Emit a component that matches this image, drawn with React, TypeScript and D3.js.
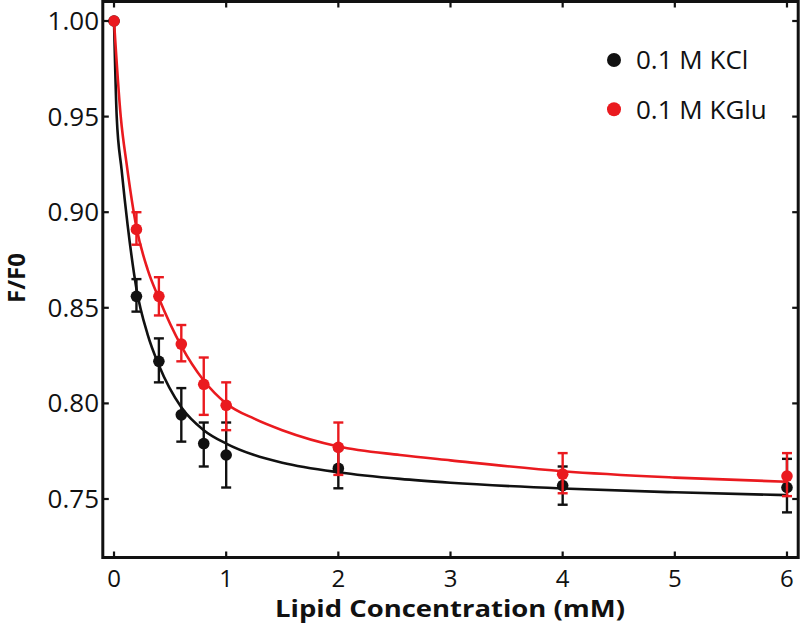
import React, { useEffect } from "react";
import * as d3 from "d3";

// ---- data ----
const concentrations = [0, 0.2, 0.4, 0.6, 0.8, 1, 2, 4, 6];

const kclValues = [1.0, 0.856, 0.822, 0.794, 0.779, 0.773, 0.766, 0.757, 0.756];
const kclHigh = [1.0, 0.865, 0.834, 0.808, 0.79, 0.79, 0.776, 0.767, 0.771];
const kclLow = [1.0, 0.848, 0.811, 0.78, 0.767, 0.756, 0.7556, 0.747, 0.743];

const kgluValues = [1.0, 0.891, 0.856, 0.831, 0.81, 0.799, 0.777, 0.763, 0.762];
const kgluHigh = [1.0, 0.9, 0.866, 0.841, 0.824, 0.811, 0.79, 0.774, 0.774];
const kgluLow = [1.0, 0.883, 0.846, 0.822, 0.794, 0.786, 0.7626, 0.753, 0.7515];

// fitted curves: [x, y]
const kclFit: [number, number][] = [
  [0, 1.0], [0.024, 0.95], [0.068, 0.922], [0.122, 0.893], [0.2, 0.86],
  [0.3, 0.836], [0.4, 0.82], [0.6, 0.798], [0.8, 0.786], [1.0, 0.779],
  [1.25, 0.773], [1.5, 0.769], [2.0, 0.764], [2.55, 0.7605], [3, 0.7585],
  [4, 0.7555], [5, 0.7535], [6, 0.752],
];
const kgluFit: [number, number][] = [
  [0, 1.0], [0.06, 0.95], [0.113, 0.925], [0.2, 0.892], [0.3, 0.87],
  [0.4, 0.855], [0.6, 0.83], [0.8, 0.812], [1.0, 0.8], [1.25, 0.792],
  [1.5, 0.786], [2.0, 0.7775], [2.55, 0.773], [3, 0.7702], [4, 0.7645],
  [5, 0.7612], [6, 0.759],
];

const xTicks = [0, 1, 2, 3, 4, 5, 6];
const yTicks = [0.75, 0.8, 0.85, 0.9, 0.95, 1.0];
const legendLabels = ["0.1 M KCl", "0.1 M KGlu"];
const xTitle = "Lipid Concentration (mM)";
const yTitle = "F/F0";

const BLACK = "#111111";
const RED = "#ea1a1f";

export default function App() {
  useEffect(() => {
    document.body.style.margin = "0";
  }, []);

  const W = 800;
  const H = 624;
  const left = 102.8;
  const right = 798.2;
  const top = 1.5;
  const bottom = 557.5;

  const x = d3.scaleLinear().domain([-0.1, 6.1]).range([left, right]);
  const y = d3.scaleLinear().domain([0.7194, 1.0102]).range([bottom, top]);

  const line = d3
    .line<[number, number]>()
    .x((d) => x(d[0]))
    .y((d) => y(d[1]))
    .curve(d3.curveMonotoneX);

  const font = "'Open Sans', 'DejaVu Sans', sans-serif";
  const tickLen = 6;

  const series = [
    { color: BLACK, vals: kclValues, hi: kclHigh, lo: kclLow, fit: kclFit },
    { color: RED, vals: kgluValues, hi: kgluHigh, lo: kgluLow, fit: kgluFit },
  ];

  return (
    <svg
      width={W}
      height={H}
      style={{ position: "absolute", left: 0, top: 0, background: "#fff" }}
    >
      <rect x={0} y={0} width={W} height={H} fill="#fff" />
      {series.map((s, si) => (
        <g key={si}>
          <path d={line(s.fit) || ""} fill="none" stroke={s.color} strokeWidth={2.6} />
          {concentrations.map((c, i) => {
            const cx = x(c);
            return (
              <g key={i} stroke={s.color} strokeWidth={2.4}>
                <line x1={cx} x2={cx} y1={y(s.hi[i])} y2={y(s.lo[i])} />
                <line x1={cx - 5} x2={cx + 5} y1={y(s.hi[i])} y2={y(s.hi[i])} />
                <line x1={cx - 5} x2={cx + 5} y1={y(s.lo[i])} y2={y(s.lo[i])} />
              </g>
            );
          })}
          {concentrations.map((c, i) => (
            <circle key={i} cx={x(c)} cy={y(s.vals[i])} r={5.8} fill={s.color} />
          ))}
        </g>
      ))}

      {/* frame */}
      <rect
        x={left}
        y={top}
        width={right - left}
        height={bottom - top}
        fill="none"
        stroke={BLACK}
        strokeWidth={3}
      />
      {/* ticks */}
      {xTicks.map((t) => (
        <g key={"xt" + t} stroke={BLACK} strokeWidth={2.2}>
          <line x1={x(t)} x2={x(t)} y1={bottom} y2={bottom - tickLen} />
          <line x1={x(t)} x2={x(t)} y1={top} y2={top + tickLen} />
        </g>
      ))}
      {yTicks.map((t) => (
        <g key={"yt" + t} stroke={BLACK} strokeWidth={2.2}>
          <line x1={left} x2={left + tickLen} y1={y(t)} y2={y(t)} />
          <line x1={right} x2={right - tickLen} y1={y(t)} y2={y(t)} />
        </g>
      ))}
      {/* tick labels */}
      {xTicks.map((t) => (
        <text
          key={"xl" + t}
          x={x(t)}
          y={587}
          textAnchor="middle"
          fontFamily={font}
          fontSize={24}
          fill={BLACK}
        >
          {d3.format("d")(t)}
        </text>
      ))}
      {yTicks.map((t) => (
        <text
          key={"yl" + t}
          x={99}
          y={y(t)}
          dy="0.35em"
          textAnchor="end"
          fontFamily={font}
          fontSize={26}
          fill={BLACK}
        >
          {d3.format(".2f")(t)}
        </text>
      ))}
      {/* axis titles */}
      <text
        x={450}
        y={617}
        textAnchor="middle"
        fontFamily={font}
        fontWeight="bold"
        fontSize={24}
        fill={BLACK}
        textLength={350}
        lengthAdjust="spacingAndGlyphs"
      >
        {xTitle}
      </text>
      <text
        transform="translate(25,278) rotate(-90)"
        textAnchor="middle"
        fontFamily={font}
        fontWeight="bold"
        fontSize={24}
        fill={BLACK}
      >
        {yTitle}
      </text>
      {/* legend */}
      {legendLabels.map((lab, i) => (
        <g key={lab}>
          <circle cx={614} cy={60 + i * 49.3} r={7} fill={series[i].color} />
          <text
            x={636}
            y={60 + i * 49.3}
            dy="0.36em"
            fontFamily={font}
            fontSize={26}
            fill={BLACK}
          >
            {lab}
          </text>
        </g>
      ))}
    </svg>
  );
}
